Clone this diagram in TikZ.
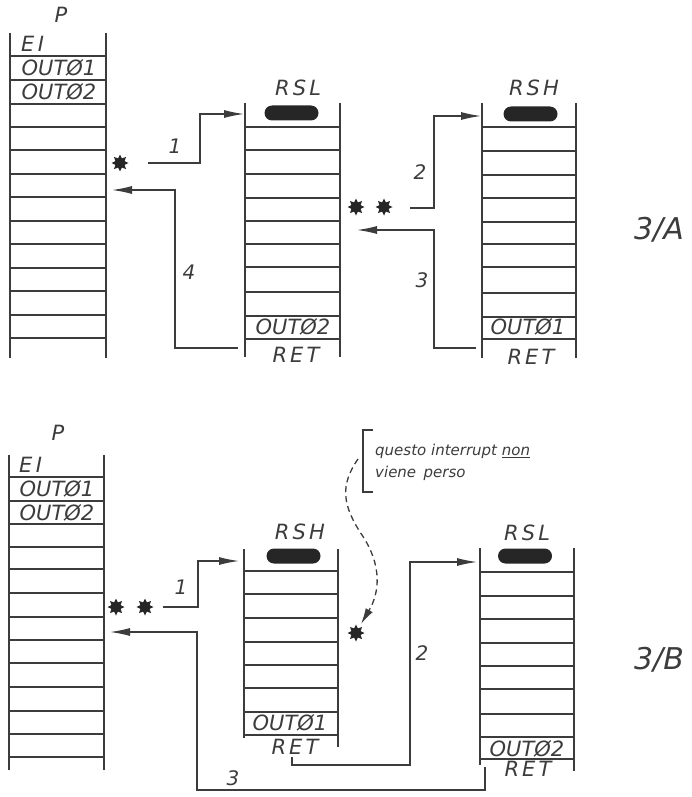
\documentclass[tikz,border=0pt]{standalone}
\usepackage{fontspec}
\setmainfont{DejaVu Sans}
\newfontfamily\spcfont[LetterSpace=15]{DejaVu Sans}
\usetikzlibrary{arrows.meta,shapes.geometric,shapes.misc}
\definecolor{ink}{HTML}{3C3C3C}
\definecolor{dark}{HTML}{262626}
\newcommand\drawstack[5]{%
  \draw[ln] (#1,#3) -- (#1,#4) (#2,#3) -- (#2,#4);
  \foreach \yy in {#5} {\draw[ln] (#1,\yy) -- (#2,\yy);}%
}
\begin{document}
\begin{tikzpicture}[x=1pt,y=-1pt,
  ln/.style={draw=ink,line width=1.3pt},
  arr/.style={ln,-{Latex[length=20pt,width=8pt]}},
  txt/.style={text=ink,font=\fontsize{21}{21}\selectfont\itshape,inner sep=0pt},
  lbl/.style={text=ink,font=\spcfont\fontsize{21}{21}\selectfont\itshape,inner sep=0pt},
  num/.style={text=ink,font=\fontsize{20}{20}\selectfont\itshape,inner sep=0pt},
  big/.style={text=ink,font=\fontsize{30}{30}\selectfont\itshape,inner sep=0pt},
  note/.style={text=ink,font=\fontsize{15}{15}\selectfont\itshape,inner sep=0pt,anchor=west},
  pill/.style={rounded rectangle,fill=dark,minimum width=54pt,minimum height=15pt,inner sep=0pt},
  irq/.style={star,star points=8,star point ratio=1.7,fill=dark,minimum size=17pt,inner sep=0pt},
]
\useasboundingbox (0,0) rectangle (692,797);

% ================= 3/A =================
% P column
\drawstack{10}{106}{33}{358}{56,80,104,127,150,174,197,221,244,268,291,315,338}
\node[lbl] (pA) at (61,15) {P};
\node[txt,anchor=west] (eiA) at (21,44) {E\,I};
\node[txt] (o1A) at (59,68) {OUTØ1};
\node[txt] (o2A) at (59,92) {OUTØ2};

% RSL column
\drawstack{245}{340}{103}{357}{127,150,174,198,221,244,267,292,316,339}
\node[lbl] (rslA) at (298,88) {RSL};
\node[pill] (rslApill) at (291.5,113) {};
\node[txt] (rslAo) at (293,327) {OUTØ2};
\node[lbl] (rslAret) at (296,355) {RET};

% RSH column
\drawstack{482}{576}{103}{358}{127,151,175,198,222,244,267,293,317,339}
\node[lbl] (rshA) at (534,88) {RSH};
\node[pill] (rshApill) at (530.5,114) {};
\node[txt] (rshAo) at (528,327) {OUTØ1};
\node[lbl] (rshAret) at (531,357) {RET};

\node[big] (tA) at (659,230) {3/A};

% interrupts
\node[irq] (sA1) at (120,163) {};
\node[irq] (sA2) at (356,207) {};
\node[irq] (sA3) at (384,207) {};

% arrows
\coordinate (a1s) at (148,163);
\coordinate (a1e) at (244,114);
\draw[arr] (a1s) -- (200,163) |- (a1e);
\node[num] (n1A) at (175,146) {1};

\coordinate (a2s) at (410,208);
\coordinate (a2e) at (481,116);
\draw[arr] (a2s) -- (434,208) |- (a2e);
\node[num] (n2A) at (420,172) {2};

\coordinate (a3s) at (476,348);
\coordinate (a3e) at (357,230);
\draw[arr] (a3s) -- (434,348) |- (a3e);
\node[num] (n3A) at (422,280) {3};

\coordinate (a4s) at (238,348);
\coordinate (a4e) at (112,190);
\draw[arr] (a4s) -- (175,348) |- (a4e);
\node[num] (n4A) at (189,272) {4};

% ================= 3/B =================
% P column
\drawstack{9}{104}{455}{770}{477,501,524,547,569,593,617,640,663,687,711,734,757}
\node[lbl] (pB) at (58,433) {P};
\node[txt,anchor=west] (eiB) at (19,465) {E\,I};
\node[txt] (o1B) at (57,489) {OUTØ1};
\node[txt] (o2B) at (57,513) {OUTØ2};

% RSH column
\draw[ln] (244,549) -- (244,738) (338,549) -- (338,747);
\foreach \yy in {571,594,618,642,665,688,712,735} {\draw[ln] (244,\yy) -- (338,\yy);}
\node[lbl] (rshB) at (300,532) {RSH};
\node[pill] (rshBpill) at (293.5,556) {};
\node[txt] (rshBo) at (290,723) {OUTØ1};
\node[lbl] (rshBret) at (295,747) {RET};

% RSL column
\draw[ln] (480,548) -- (480,765) (574,548) -- (574,771);
\foreach \yy in {572,596,619,643,666,689,714,737,759} {\draw[ln] (480,\yy) -- (574,\yy);}
\node[lbl] (rslB) at (527,533) {RSL};
\node[pill] (rslBpill) at (525,556) {};
\node[txt] (rslBo) at (527,749) {OUTØ2};
\node[lbl] (rslBret) at (528,769) {RET};

\node[big] (tB) at (659,660) {3/B};

% interrupts
\node[irq] (sB1) at (116,607) {};
\node[irq] (sB2) at (145,607) {};
\node[irq] (sB3) at (356,633) {};

% arrows
\coordinate (b1s) at (163,607);
\coordinate (b1e) at (239,561);
\draw[arr] (b1s) -- (198,607) |- (b1e);
\node[num] (n1B) at (181,587) {1};

\coordinate (b2s) at (292,757);
\coordinate (b2e) at (477,562);
\draw[arr] (b2s) -- (292,765) -- (410,765) |- (b2e);
\node[num] (n2B) at (422,653) {2};

\coordinate (b3s) at (485,767);
\coordinate (b3e) at (110,632);
\draw[arr] (b3s) -- (485,790) -- (197,790) |- (b3e);
\node[num] (n3B) at (233,778) {3};

% note
\draw[ln] (373,430) -- (363,430) -- (363,492) -- (373,492);
\node[note] (note1) at (375,451) {questo interrupt \underline{non}};
\node[note] (note2) at (375,473) {viene\enspace perso};
\coordinate (nstart) at (358,459);
\draw[ln,dashed,dash pattern=on 6pt off 4pt,-{Latex[length=16pt,width=8pt]}]
  (nstart) .. controls (340,485) and (342,505) .. (362,535)
  .. controls (382,565) and (380,592) .. (361,624);
\end{tikzpicture}
\end{document}
